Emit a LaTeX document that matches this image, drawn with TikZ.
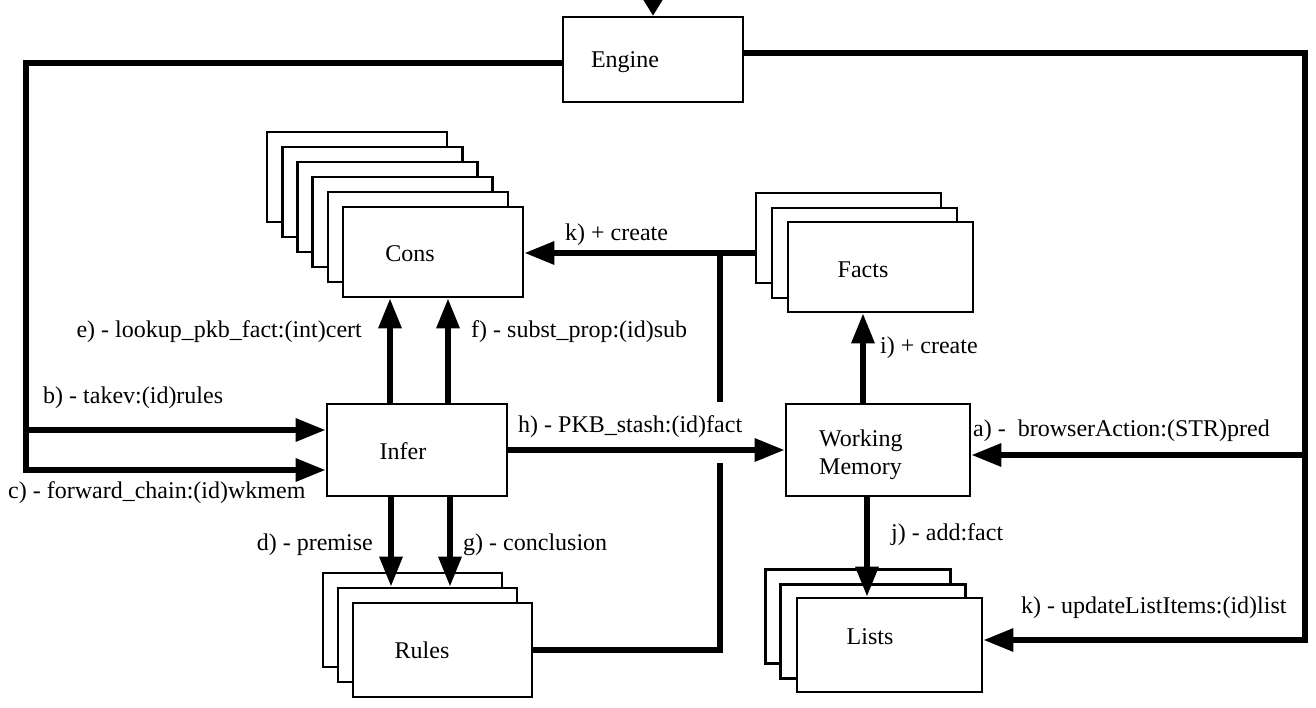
\documentclass[tikz,border=0pt]{standalone}
\usepackage{fontspec}
\setmainfont{Liberation Serif}
\usetikzlibrary{arrows.meta,calc}
\begin{document}
\begin{tikzpicture}[x=1pt,y=-1pt,
  box/.style={draw,line width=2.6pt,fill=white,inner sep=0pt,
              minimum width=180pt,minimum height=91pt},
  boxtext/.style={inner sep=0pt,font=\fontsize{24}{28}\selectfont,align=left},
  lbl/.style={inner sep=0pt,font=\fontsize{24}{28}\selectfont},
  conn/.style={line width=6pt,line join=miter},
  arr/.style={conn,-{Triangle[length=30pt,width=22pt]}}]
\useasboundingbox (0,0) rectangle (1316,708);
\clip (0,0) rectangle (1316,708);

% ---- Engine
\node[box,minimum height=85pt] (engine) at (653,59.5) {};
\node[boxtext] (engineT) at (625,62) {Engine};

% ---- Cons: a stack of six cards
\foreach \i in {5,4,3,2,1}
  \node[box,minimum height=90pt] (cons\i) at ({433-15.2*\i},{252-15*\i}) {};
\node[box,minimum height=90pt] (cons) at (433,252) {};
\node[boxtext] (consT) at (410,254) {Cons};

% ---- Facts: three cards
\node[box,minimum width=185pt,minimum height=90pt] (facts2) at (848.5,238) {};
\node[box,minimum width=185pt,minimum height=90pt] (facts1) at (864.5,253) {};
\node[box,minimum width=185pt,minimum height=90pt] (facts) at (880.5,267) {};
\node[boxtext] (factsT) at (863,270) {Facts};

% ---- Infer and Working Memory
\node[box,minimum height=92pt] (infer) at (417,450) {};
\node[boxtext] (inferT) at (403,451) {Infer};
\node[box,minimum width=184pt,minimum height=92pt] (wm) at (878,450) {};
\node[boxtext,anchor=west] (wmT) at (819,455) {Working\\Memory};

% ---- Rules: three cards
\node[box,minimum width=179pt,minimum height=94pt] (rules2) at (412.5,620) {};
\node[box,minimum width=179pt,minimum height=94pt] (rules1) at (427.5,635) {};
\node[box,minimum width=179pt,minimum height=94pt] (rules) at (442.5,650) {};
\node[boxtext] (rulesT) at (422,650) {Rules};

% ---- Lists: three cards
\node[box,minimum width=185pt,minimum height=94pt] (lists2) at (858,616.5) {};
\node[box,minimum width=185pt,minimum height=94pt] (lists1) at (873,631.5) {};
\node[box,minimum width=185pt,minimum height=94pt] (lists) at (889.5,645) {};
\node[boxtext] (listsT) at (870,637) {Lists};

% ---- junction points of the connectors
\coordinate (lb) at (26,430);
\coordinate (lc) at (26,470);
\coordinate (ra) at (1305,455);
\coordinate (rk) at (1305,640);
\coordinate (kc) at (720,253);
\coordinate (gapLow) at (720,463);
\coordinate (gapHigh) at (720,402);

% ---- connectors
\draw[line width=3pt,-{Triangle[length=17pt,width=20pt]}]
  ([yshift=20pt]engine.north) -- (engine.north);

\draw[arr] ([yshift=-3.5pt]engine.west) -| (lc) -- (lc -| infer.west);
\draw[arr] (lb) -- (lb -| infer.west);

\draw[arr] ([yshift=6.5pt]engine.east) -| (rk) -- (rk -| lists.east);
\draw[arr] (ra) -- (ra -| wm.east);

\draw[arr] (kc -| facts2.west) -- (kc -| cons.east);
\draw[conn] (rules.east) -| (gapLow);
\draw[conn] (gapHigh) -- (kc);

\draw[arr] ([xshift=-27pt]infer.north) -- ([xshift=-27pt]infer.north |- cons.south);
\draw[arr] ([xshift=31pt]infer.north) -- ([xshift=31pt]infer.north |- cons.south);
\draw[arr] ([xshift=-26pt]infer.south) -- ([xshift=-26pt]infer.south |- rules1.north);
\draw[arr] ([xshift=33pt]infer.south) -- ([xshift=33pt]infer.south |- rules1.north);

\draw[arr] (infer.east) -- (wm.west);
\draw[arr] ([xshift=-15pt]wm.north) -- ([xshift=-15pt]wm.north |- facts.south);
\draw[arr] ([xshift=-11pt]wm.south) -- ([xshift=-11pt]wm.south |- lists.north);

% ---- message labels
\node[lbl,anchor=west] (lkc) at (565,235) {k) + create};
\node[lbl,anchor=east] (le) at (362,332) {e) - lookup\_pkb\_fact:(int)cert};
\node[lbl,anchor=west] (lf) at (471,332) {f) - subst\_prop:(id)sub};
\node[lbl,anchor=west] (lbT) at (43,398) {b) - takev:(id)rules};
\node[lbl,anchor=west] (lcT) at (8,493) {c) - forward\_chain:(id)wkmem};
\node[lbl,anchor=west] (lh) at (518,427) {h) - PKB\_stash:(id)fact};
\node[lbl,anchor=west] (li) at (880,348) {i) + create};
\node[lbl,anchor=west] (la) at (973,431) {a) -\ \ browserAction:(STR)pred};
\node[lbl,anchor=west] (lj) at (891,535) {j) - add:fact};
\node[lbl,anchor=west] (lku) at (1021,608) {k) - updateListItems:(id)list};
\node[lbl,anchor=east] (ld) at (373,545) {d) - premise};
\node[lbl,anchor=west] (lg) at (463,545) {g) - conclusion};
\end{tikzpicture}
\end{document}
